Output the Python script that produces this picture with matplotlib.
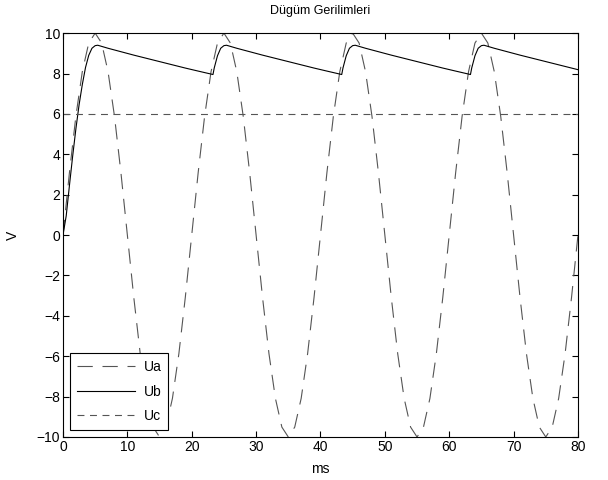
import numpy as np
import matplotlib
matplotlib.use("Agg")
import matplotlib.pyplot as plt

# Ua, sampled every 1 ms
ua_t = list(range(0, 81))
ua_v = [0, 3.09, 5.88, 8.09, 9.51, 10, 9.51, 8.09, 5.88, 3.09,
        0, -3.09, -5.88, -8.09, -9.51, -10, -9.51, -8.09, -5.88, -3.09,
        0, 3.09, 5.88, 8.09, 9.51, 10, 9.51, 8.09, 5.88, 3.09,
        0, -3.09, -5.88, -8.09, -9.51, -10, -9.51, -8.09, -5.88, -3.09,
        0, 3.09, 5.88, 8.09, 9.51, 10, 9.51, 8.09, 5.88, 3.09,
        0, -3.09, -5.88, -8.09, -9.51, -10, -9.51, -8.09, -5.88, -3.09,
        0, 3.09, 5.88, 8.09, 9.51, 10, 9.51, 8.09, 5.88, 3.09,
        0, -3.09, -5.88, -8.09, -9.51, -10, -9.51, -8.09, -5.88, -3.09,
        0]

# Ub, read at key points
ub_t = [0, 0.5, 1, 1.5, 2, 2.5, 3, 3.5, 4, 4.5, 5, 5.4,
        7, 9, 11, 13, 15, 17, 19, 21, 23.3,
        23.5, 24, 24.5, 25, 25.4,
        27, 29, 31, 33, 35, 37, 39, 41, 43.3,
        43.5, 44, 44.5, 45, 45.4,
        47, 49, 51, 53, 55, 57, 59, 61, 63.3,
        63.5, 64, 64.5, 65, 65.4,
        67, 69, 71, 73, 75, 77, 79, 80]
ub_v = [0, 0.95, 2.45, 3.9, 5.25, 6.45, 7.45, 8.3, 8.9, 9.25, 9.38, 9.4,
        9.25, 9.08, 8.91, 8.75, 8.59, 8.43, 8.27, 8.12, 7.95,
        8.28, 8.88, 9.25, 9.38, 9.4,
        9.25, 9.08, 8.91, 8.75, 8.59, 8.43, 8.27, 8.12, 7.95,
        8.28, 8.88, 9.25, 9.38, 9.4,
        9.25, 9.08, 8.91, 8.75, 8.59, 8.43, 8.27, 8.12, 7.95,
        8.28, 8.88, 9.25, 9.38, 9.4,
        9.25, 9.08, 8.91, 8.75, 8.59, 8.43, 8.27, 8.19]

uc_t = [0, 80]
uc_v = [6, 6]

plt.rcParams['font.family'] = ['Liberation Sans', 'DejaVu Sans']
plt.rcParams['lines.scale_dashes'] = False

fig = plt.figure(figsize=(6.08, 4.8), dpi=100)
ax = fig.add_axes([0.1036, 0.0896, 0.847, 0.8414])

ax.plot(ua_t, ua_v, color='#555555', lw=0.8, linestyle=(0, (11, 7)), label='Ua')
ax.plot(ub_t, ub_v, color='black', lw=0.8, label='Ub')
ax.plot(uc_t, uc_v, color='#555555', lw=0.8, linestyle=(0, (5, 4)), label='Uc')

ax.set_xlim(0, 80)
ax.set_ylim(-10, 10)
ax.set_xticks(range(0, 81, 10))
ax.set_yticks(range(-10, 11, 2))
ax.tick_params(direction='in', top=True, right=True, labelsize=10, length=4,
               width=0.8, pad=2)
for s in ax.spines.values():
    s.set_linewidth(0.8)
ax.set_xlabel('ms', fontsize=10, labelpad=6)
ax.set_ylabel('V', fontsize=10, labelpad=12)
ax.set_title('Dügüm Gerilimleri', fontsize=9, pad=14)

leg = ax.legend(loc='lower left', fontsize=10, fancybox=False, edgecolor='black',
                framealpha=1, handlelength=4.2, borderaxespad=0.5, labelspacing=0.75,
                borderpad=0.5, handletextpad=0.6)
leg.get_frame().set_linewidth(0.8)

plt.savefig('out.png', dpi=100)
